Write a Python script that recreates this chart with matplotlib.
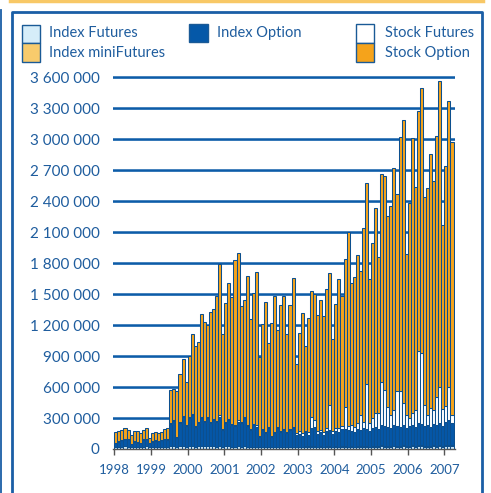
import matplotlib
matplotlib.use("Agg")
import matplotlib.pyplot as plt
from matplotlib.patches import Rectangle
from matplotlib.lines import Line2D
import numpy as np

# monthly volumes Jan 1998 - Mar 2007 (thousands of contracts)
years = [1998, 1999, 2000, 2001, 2002, 2003, 2004, 2005, 2006, 2007]

index_futures = [
    20, 22, 18, 25, 22, 15, 20, 18, 16, 22, 25, 15,
    18, 20, 17, 19, 22, 21, 30, 32, 20, 28, 30, 24,
    30, 28, 22, 25, 30, 26, 28, 25, 27, 24, 30, 20,
    25, 27, 22, 24, 26, 23, 28, 22, 20, 24, 22, 15,
    20, 18, 22, 15, 18, 20, 18, 20, 16, 20, 22, 15,
    18, 16, 20, 18, 22, 24, 18, 20, 16, 20, 22, 18,
    20, 18, 22, 20, 18, 20, 16, 22, 20, 24, 22, 18,
    22, 24, 20, 25, 24, 22, 20, 25, 22, 24, 26, 20,
    22, 25, 20, 28, 26, 22, 24, 20, 25, 24, 28, 22,
    26, 28, 30]

index_minifutures = [
    0, 0, 0, 0, 0, 0, 0, 0, 0, 0, 0, 0,
    0, 0, 0, 0, 0, 0, 0, 0, 0, 0, 0, 0,
    0, 0, 0, 0, 0, 0, 0, 0, 0, 0, 0, 0,
    0, 0, 0, 0, 0, 0, 0, 0, 0, 0, 0, 0,
    0, 0, 0, 0, 0, 0, 0, 0, 0, 0, 0, 0,
    0, 0, 5, 8, 10, 6, 4, 5, 3, 6, 8, 4,
    5, 6, 4, 8, 6, 5, 4, 6, 5, 8, 6, 4,
    6, 8, 5, 10, 8, 6, 5, 8, 6, 8, 10, 5,
    8, 10, 6, 12, 10, 8, 8, 6, 10, 8, 12, 6,
    10, 12, 10]

# top of the dark blue (index option) part of each bar
index_option_top = [
    55, 70, 87, 93, 93, 48, 70, 60, 55, 87, 93, 55,
    70, 80, 75, 85, 93, 90, 242, 271, 113, 252, 306, 223,
    297, 329, 210, 248, 297, 261, 297, 248, 281, 265, 313, 184,
    248, 281, 232, 223, 265, 248, 297, 223, 184, 232, 216, 119,
    184, 152, 200, 113, 158, 200, 168, 184, 152, 184, 200, 135,
    150, 130, 160, 140, 200, 210, 150, 160, 140, 170, 180, 150,
    170, 160, 190, 190, 180, 170, 160, 190, 180, 200, 190, 170,
    200, 210, 190, 230, 220, 210, 200, 230, 220, 210, 230, 200,
    220, 230, 210, 250, 240, 220, 230, 210, 240, 230, 250, 220,
    260, 280, 250]

stock_futures = [
    5, 5, 4, 6, 5, 3, 4, 5, 3, 5, 6, 3,
    4, 5, 4, 5, 6, 5, 8, 10, 6, 8, 10, 8,
    10, 12, 8, 10, 12, 10, 12, 10, 12, 10, 15, 8,
    10, 12, 10, 12, 15, 10, 12, 10, 8, 10, 12, 6,
    10, 8, 12, 8, 10, 12, 10, 12, 8, 10, 15, 20,
    20, 25, 15, 20, 110, 70, 20, 25, 20, 30, 250, 20,
    30, 40, 30, 220, 40, 60, 50, 60, 150, 60, 440, 80,
    100, 140, 160, 420, 350, 200, 130, 150, 340, 350, 220, 130,
    80, 120, 170, 700, 690, 210, 100, 190, 140, 270, 350, 170,
    160, 320, 80]

# total height of each bar
total = [
    168, 177, 184, 200, 184, 135, 174, 174, 152, 180, 200, 103,
    152, 161, 152, 161, 190, 200, 571, 577, 561, 726, 868, 645,
    900, 1110, 997, 1033, 1304, 1226, 1197, 1323, 1352, 1484, 1790, 1110,
    1410, 1610, 1474, 1826, 1894, 1381, 1439, 1674, 1255, 1507, 1710, 888,
    1207, 1420, 1023, 1217, 1481, 1150, 1391, 1478, 1110, 1391, 1652, 823,
    1120, 1313, 997, 1265, 1526, 1500, 1294, 1439, 1284, 1546, 1700, 1068,
    1404, 1643, 1480, 1836, 2104, 1604, 1668, 1875, 1726, 2142, 2572, 1643,
    1994, 2330, 1855, 2659, 2639, 2255, 2352, 2717, 2465, 3017, 3181, 1884,
    2385, 3007, 2539, 3272, 3491, 2442, 2523, 2852, 2597, 3033, 3562, 2172,
    2739, 3365, 2971]

yticks = [0, 300000, 600000, 900000, 1200000, 1500000, 1800000, 2100000,
          2400000, 2700000, 3000000, 3300000, 3600000]

blue_txt = '#1f5d9e'
edge = '#0c4f8e'
c_if = '#d6edf9'
c_imf = '#f8cb6c'
c_io = '#0558a8'
c_sf = '#ffffff'
c_so = '#f5a31b'

plt.rcParams['font.family'] = ['Lato', 'DejaVu Sans']

fig = plt.figure(figsize=(4.91, 4.93), dpi=100)
W, H = 491.0, 493.0

ax = fig.add_axes([113 / W, (H - 449) / H, 342 / W, 382.3 / H])

n = len(total)
x = 1998 + np.arange(n) / 12.0
k = 1000.0
fut = np.array(index_futures) * k
mini = np.array(index_minifutures) * k
opt = np.array(index_option_top) * k - fut - mini
sfut = np.array(stock_futures) * k
sopt = np.array(total) * k - fut - mini - opt - sfut

bottom = np.zeros(n)
for seg, col in [(fut, c_if), (mini, c_imf), (opt, c_io), (sfut, c_sf), (sopt, c_so)]:
    ax.bar(x, seg, bottom=bottom, width=1 / 12.0, align='edge', color=col,
           edgecolor=edge, linewidth=0.75, zorder=3)
    bottom = bottom + seg

# gridlines with a light shadow
for yv in yticks[1:]:
    ax.axhline(yv - 14000, color='#a9c8e6', lw=1.2, zorder=1)
    ax.axhline(yv, color='#0d5ca8', lw=1.8, zorder=2)

ax.set_xlim(1997.965, 2007.29)
ax.set_ylim(0, 3700000)

for s in ['top', 'right', 'left']:
    ax.spines[s].set_visible(False)
ax.spines['bottom'].set_color('#555555')
ax.spines['bottom'].set_linewidth(1.0)
ax.spines['bottom'].set_zorder(4)

ax.set_yticks(yticks)
ax.set_yticklabels(['{:,}'.format(v).replace(',', ' ') for v in yticks])
ax.tick_params(axis='y', length=0, pad=9.5, labelsize=11, labelcolor=blue_txt)
ax.set_xticks(years)
ax.set_xticklabels([str(y) for y in years])
ax.tick_params(axis='x', length=4, width=1, color='#555555', pad=7,
               labelsize=9.5, labelcolor=blue_txt)


def fx(px):
    return px / W


def fy(py):
    return 1 - py / H


# frame
fig.add_artist(Line2D([fx(10), fx(483)], [fy(1), fy(1)], color='#f8c866', lw=2.5))
fig.add_artist(Line2D([fx(0.7), fx(0.7)], [fy(10), fy(493)], color='#1a5ea6', lw=1.3))
fig.add_artist(Line2D([fx(12), fx(12), fx(481.5), fx(481.5)],
                      [fy(493), fy(11.5), fy(11.5), fy(493)], color='#1a5ea6', lw=2.0))

# legend
boxes = [
    (22, 25, 18, 18, c_if, 'Index Futures', 49, 33),
    (22, 43, 18, 19, c_imf, 'Index miniFutures', 49, 53),
    (189, 24, 19, 18, c_io, 'Index Option', 217, 33),
    (356, 24, 18, 19, c_sf, 'Stock Futures', 385, 33),
    (356, 43, 18, 19, c_so, 'Stock Option', 385, 53),
]
for bx, by, bw, bh, col, label, tx, ty in boxes:
    fig.add_artist(Rectangle((fx(bx), fy(by + bh)), bw / W, bh / H, facecolor=col,
                             edgecolor='#1a5a96', lw=1.0))
    fig.text(fx(tx), fy(ty), label, color=blue_txt, fontsize=10.5, va='center', ha='left')

fig.savefig('out.png', dpi=100)
